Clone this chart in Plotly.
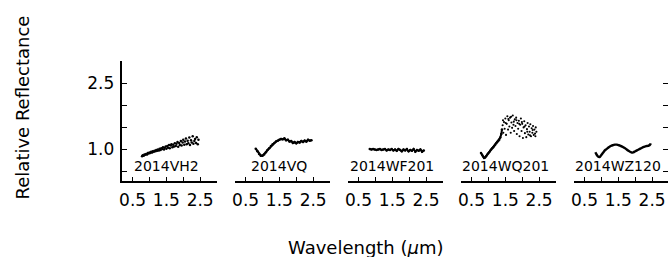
import plotly.graph_objects as go

# ---------------- data ----------------
names = ["2014VH2", "2014VQ", "2014WF201", "2014WQ201", "2014WZ120"]

vh2_x = [0.78,0.80,0.83,0.85,0.88,0.90,0.93,0.95,0.98,1.00,
         1.03,1.05,1.08,1.10,1.13,1.15,1.18,1.20,1.23,1.25,
         1.28,1.30,1.33,1.35,1.38,1.40,1.43,1.45,1.48,1.50,
         1.53,1.55,1.58,1.60,1.63,1.65,1.68,1.70,1.73,1.75,
         1.78,1.80,1.83,1.85,1.88,1.90,1.93,1.95,1.98,2.00,
         2.03,2.05,2.08,2.10,2.13,2.15,2.18,2.20,2.23,2.25,
         2.28,2.30,2.33,2.35,2.38,2.40,2.43,2.45]
vh2_y = [0.85,0.87,0.86,0.89,0.88,0.90,0.89,0.92,0.91,0.93,
         0.92,0.95,0.93,0.96,0.95,0.97,0.96,0.99,0.97,1.00,
         0.98,1.02,0.99,1.03,1.01,1.05,1.00,1.04,1.07,1.02,
         1.08,1.04,1.10,1.03,1.09,1.12,1.05,1.11,1.07,1.14,
         1.08,1.13,1.17,1.06,1.15,1.10,1.19,1.09,1.16,1.22,
         1.11,1.18,1.25,1.12,1.20,1.14,1.27,1.10,1.21,1.16,
         1.30,1.13,1.19,1.24,1.15,1.28,1.12,1.22]

vq_x = [0.80,0.85,0.90,0.95,1.00,1.05,1.10,1.15,1.20,1.25,1.30,1.35,1.40,1.45,1.50,1.55,1.60,
        1.65,1.70,1.75,1.80,1.85,1.90,1.95,2.00,2.05,2.10,2.15,2.20,2.25,2.30,2.35,2.40,2.45]
vq_y = [1.02,0.96,0.90,0.86,0.86,0.89,0.94,0.99,1.03,1.08,1.12,1.15,1.18,1.20,1.22,1.24,1.23,
        1.25,1.21,1.22,1.18,1.19,1.15,1.17,1.14,1.17,1.16,1.19,1.17,1.20,1.18,1.22,1.20,1.21]

wf_x = [0.83,0.88,0.93,0.98,1.03,1.08,1.13,1.18,1.23,1.28,1.33,1.38,1.43,1.48,1.53,1.58,1.63,
        1.68,1.73,1.78,1.83,1.88,1.93,1.98,2.03,2.08,2.13,2.18,2.23,2.28,2.33,2.38,2.43]
wf_y = [1.01,1.00,1.01,1.00,0.99,1.00,1.01,0.99,1.00,1.01,0.98,1.00,0.99,1.01,0.98,1.00,0.97,
        1.01,0.99,0.96,1.00,0.98,1.01,0.96,0.99,0.97,1.01,0.95,0.99,0.97,1.00,0.95,0.98]

wq_rise_x = [0.78,0.81,0.84,0.87,0.90,0.93,0.96,0.99,1.02,1.05,1.08,1.11,1.14,1.17,1.20,1.23,
             1.26,1.29,1.32,1.35,1.38,1.40]
wq_rise_y = [0.92,0.88,0.84,0.81,0.82,0.85,0.88,0.91,0.94,0.97,1.00,1.03,1.05,1.08,1.11,1.14,
             1.17,1.19,1.22,1.27,1.35,1.45]
wq_scat_x = [1.42,1.44,1.46,1.48,1.50,1.52,1.54,1.56,1.58,1.60,1.62,1.64,1.66,1.68,1.70,1.72,
             1.74,1.76,1.78,1.80,1.82,1.84,1.86,1.88,1.90,1.92,1.94,1.96,1.98,2.00,2.02,2.04,
             2.06,2.08,2.10,2.12,2.14,2.16,2.18,2.20,2.22,2.24,2.26,2.28,2.30,2.32,2.34,2.36,
             2.38,2.40,2.42,
             1.43,1.51,1.59,1.67,1.75,1.83,1.91,1.99,2.07,2.15,2.23,2.31,2.39]
wq_scat_y = [1.55,1.38,1.62,1.47,1.70,1.33,1.58,1.75,1.45,1.66,1.52,1.72,1.38,1.61,1.49,1.77,
             1.56,1.42,1.68,1.53,1.72,1.35,1.60,1.47,1.65,1.30,1.56,1.70,1.42,1.58,1.26,1.50,
             1.64,1.37,1.55,1.28,1.46,1.60,1.34,1.52,1.40,1.57,1.30,1.48,1.38,1.53,1.33,1.45,
             1.36,1.50,1.40,
             1.66,1.60,1.69,1.74,1.63,1.66,1.58,1.62,1.52,1.40,1.32,1.44,1.30]

wz_x = [0.82,0.84,0.87,0.90,0.94,0.98,1.02,1.06,1.10,1.15,1.20,1.25,1.30,1.35,1.40,1.45,1.50,
        1.55,1.60,1.65,1.70,1.75,1.80,1.85,1.90,1.95,2.00,2.05,2.10,2.15,2.20,2.25,2.30,2.35,
        2.40,2.44,2.46]
wz_y = [0.94,0.91,0.87,0.84,0.83,0.86,0.90,0.94,0.98,1.01,1.04,1.07,1.09,1.10,1.11,1.11,1.10,
        1.09,1.07,1.05,1.03,1.00,0.97,0.95,0.93,0.94,0.96,0.98,1.00,1.02,1.04,1.06,1.07,1.08,
        1.09,1.11,1.14]

x_tickvals = [0.5, 1.0, 1.5, 2.0, 2.5, 3.0]
x_ticktext = ["0.5", "", "1.5", "", "2.5", ""]
y_tickvals = [0.5, 1.0, 1.5, 2.0, 2.5, 3.0]
y_ticktext = ["", "1.0", "", "", "2.5", ""]

# ---------------- layout geometry (page pixels; body margin removed below) ----------------
W, H = 668, 257
panel_left = [120, 233.5, 347, 460.5, 574]
panel_w = 95
x_lo, x_hi = 0.2, 3.0
y_top_px, y_bot_px = 61, 180.5
FONT = "DejaVu Sans"

fig = go.Figure()

def axname(i):
    return "x" if i == 0 else f"x{i+1}"

fig.add_trace(go.Scatter(x=vh2_x, y=vh2_y, mode="markers", marker=dict(color="black", size=2.5),
                         xaxis="x", yaxis="y"))
fig.add_trace(go.Scatter(x=vq_x, y=vq_y, mode="lines+markers", line=dict(color="black", width=2.2),
                         marker=dict(color="black", size=2.5), xaxis="x2", yaxis="y"))
fig.add_trace(go.Scatter(x=wf_x, y=wf_y, mode="lines+markers", line=dict(color="black", width=2),
                         marker=dict(color="black", size=2.5), xaxis="x3", yaxis="y"))
fig.add_trace(go.Scatter(x=wq_rise_x, y=wq_rise_y, mode="lines+markers", line=dict(color="black", width=2),
                         marker=dict(color="black", size=2.5), xaxis="x4", yaxis="y"))
fig.add_trace(go.Scatter(x=wq_scat_x, y=wq_scat_y, mode="markers", marker=dict(color="black", size=2.1),
                         xaxis="x4", yaxis="y"))
# panel 5 uses its own y axis (ticks on the right side)
fig.add_trace(go.Scatter(x=wz_x, y=wz_y, mode="lines", line=dict(color="black", width=2.4, shape="spline"),
                         xaxis="x5", yaxis="y2"))

layout = dict(
    width=W, height=H, margin=dict(l=0, r=0, t=0, b=0),
    paper_bgcolor="white", plot_bgcolor="rgba(0,0,0,0)", showlegend=False,
    font=dict(family=FONT, color="black"), hovermode=False,
)

ydom = [1 - y_bot_px / H, 1 - y_top_px / H]
for i in range(5):
    left = panel_left[i]
    right = left + panel_w
    hi = x_hi
    if right > W:
        hi = x_lo + (W - left) / panel_w * (x_hi - x_lo)
        right = W
    key = "xaxis" if i == 0 else f"xaxis{i+1}"
    layout[key] = dict(
        domain=[left / W, right / W], range=[x_lo, hi], anchor="y" if i < 4 else "y2",
        showline=True, linecolor="black", linewidth=1.5, showgrid=False, zeroline=False,
        ticks="inside", ticklen=4, tickwidth=1, tickcolor="black",
        tickvals=x_tickvals, ticktext=x_ticktext, tickfont=dict(size=17, family=FONT),
        ticklabelstandoff=3,
    )

layout["yaxis"] = dict(
    domain=ydom, range=[0.3, 3.0], anchor="x",
    showline=True, linecolor="black", linewidth=1.5, showgrid=False, zeroline=False,
    ticks="inside", ticklen=5, tickwidth=1, tickcolor="black",
    tickvals=y_tickvals, ticktext=y_ticktext, tickfont=dict(size=17, family=FONT),
    ticklabelstandoff=3,
)
layout["yaxis2"] = dict(
    domain=ydom, range=[0.3, 3.0], side="right", anchor="x5",
    showline=False, showgrid=False, zeroline=False,
    ticks="inside", ticklen=5, tickwidth=1, tickcolor="black",
    tickvals=y_tickvals, showticklabels=False,
)

annotations = []
for i, n in enumerate(names):
    annotations.append(dict(text=n, x=1.5, y=0.62, xref=axname(i), yref="y" if i < 4 else "y2",
                            showarrow=False, xanchor="center", yanchor="middle",
                            font=dict(size=14, family=FONT)))
annotations.append(dict(text="Relative Reflectance", x=19.5 / W, y=1 - 107 / H,
                        xref="paper", yref="paper", textangle=-90, showarrow=False,
                        xanchor="center", yanchor="middle", font=dict(size=18, family=FONT)))
annotations.append(dict(text="Wavelength (<i>μ</i>m)", x=365 / W, y=1 - 247 / H,
                        xref="paper", yref="paper", showarrow=False,
                        xanchor="center", yanchor="middle", font=dict(size=18, family=FONT)))
layout["annotations"] = annotations

fig.update_layout(**layout)
fig.write_html("out.html", config={"displayModeBar": False},
               post_script="document.body.style.margin='0';document.body.style.overflow='hidden';")
